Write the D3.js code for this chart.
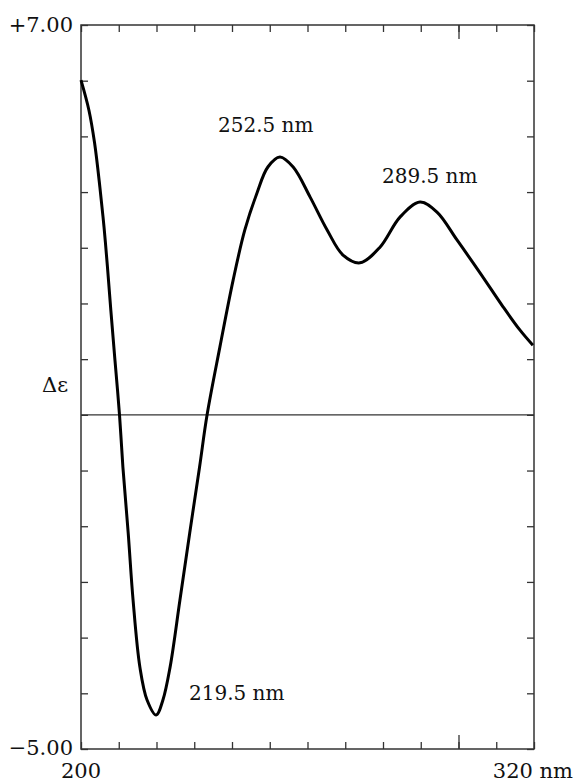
<!DOCTYPE html>
<html>
<head>
<meta charset="utf-8">
<script src="https://cdn.jsdelivr.net/npm/d3@7"></script>
<style>
  body { margin: 0; background: #fff; }
  svg text { font-family: "DejaVu Serif", serif; fill: #111; }
</style>
</head>
<body>
<div id="chart"></div>
<script>
// CD spectrum, wavelength (nm) vs delta epsilon
const wavelength = [200, 202.1, 203.6, 205.0, 206.1, 207.0, 207.9, 209.0, 210.2, 211.1, 212.5, 213.8,
    215.6, 217.5, 219.9, 221.7, 223.6, 226.2, 228.8, 231.4, 233.4, 236.8, 240.3, 243.4, 246.6,
    249.5, 252.7, 256.2, 260.7, 265.2, 269.4, 273.9, 279.2, 284.5, 289.8, 294.3, 299.6, 305.7,
    311.8, 316.3, 319.7];
const deltaEps = [6.01, 5.47, 4.88, 4.09, 3.37, 2.66, 1.88, 0.98, 0.0, -0.94, -2.12, -3.33,
    -4.53, -5.12, -5.39, -5.12, -4.53, -3.33, -2.12, -0.94, 0.0, 1.22, 2.42, 3.32, 3.98,
    4.45, 4.63, 4.45, 3.91, 3.32, 2.87, 2.73, 3.01, 3.55, 3.82, 3.64, 3.14, 2.55,
    1.94, 1.52, 1.25];

const peakLabels = ["219.5 nm", "252.5 nm", "289.5 nm"];
const xTicks = d3.range(200, 321, 10);
const yTicks = d3.range(-6, 8, 1);
const yEndLabels = ["+7.00", "\u22125.00"];
const xEndLabels = ["200", "320 nm"];

const W = 577, H = 782;
const margin = { top: 25, right: 43, bottom: 33, left: 81 };
const width = W - margin.left - margin.right;
const height = H - margin.top - margin.bottom;

const svg = d3.select("#chart").append("svg")
    .attr("width", W)
    .attr("height", H);

const g = svg.append("g").attr("transform", `translate(${margin.left},${margin.top})`);

const x = d3.scaleLinear().domain([200, 320]).range([0, width]);
const y = d3.scaleLinear().domain([-6, 7]).range([height, 0]);

// ticks, all pointing inward
const axisStyle = sel => {
    sel.select(".domain").remove();
    sel.selectAll("line").attr("stroke", "#333").attr("stroke-width", 1.3);
    sel.selectAll("text").remove();
};
g.append("g").attr("transform", `translate(0,${height})`)
    .call(d3.axisBottom(x).tickValues(xTicks).tickSize(-7)).call(axisStyle);
g.append("g")
    .call(d3.axisTop(x).tickValues(xTicks).tickSize(-7)).call(axisStyle);
g.append("g")
    .call(d3.axisLeft(y).tickValues(yTicks).tickSize(-7)).call(axisStyle);
g.append("g").attr("transform", `translate(${width},0)`)
    .call(d3.axisRight(y).tickValues(yTicks).tickSize(-7)).call(axisStyle);
// longer tick at 300 nm
g.append("g").attr("transform", `translate(0,${height})`)
    .call(d3.axisBottom(x).tickValues([300]).tickSize(-14)).call(axisStyle);
g.append("g")
    .call(d3.axisTop(x).tickValues([300]).tickSize(-14)).call(axisStyle);

// frame
g.append("rect")
    .attr("width", width)
    .attr("height", height)
    .attr("fill", "none")
    .attr("stroke", "#333")
    .attr("stroke-width", 1.5);

// zero line
g.append("line")
    .attr("x1", 0).attr("x2", width)
    .attr("y1", y(0)).attr("y2", y(0))
    .attr("stroke", "#333")
    .attr("stroke-width", 1.3);

// spectrum
const line = d3.line()
    .x((d, i) => x(wavelength[i]))
    .y(d => y(d))
    .curve(d3.curveCatmullRom.alpha(0.5));

g.append("path")
    .datum(deltaEps)
    .attr("d", line)
    .attr("fill", "none")
    .attr("stroke", "#000")
    .attr("stroke-width", 3)
    .attr("stroke-linejoin", "round");

// peak labels
const labelPos = [[189, 700], [218, 132], [382, 183]];
peakLabels.forEach((t, i) => {
    svg.append("text")
        .attr("x", labelPos[i][0])
        .attr("y", labelPos[i][1])
        .attr("font-size", 20)
        .text(t);
});

// axis end labels
svg.append("text").attr("x", margin.left - 8).attr("y", margin.top + y(7) + 7)
    .attr("text-anchor", "end").attr("font-size", 21).text(yEndLabels[0]);
svg.append("text").attr("x", margin.left - 8).attr("y", margin.top + y(-6) + 6)
    .attr("text-anchor", "end").attr("font-size", 21).text(yEndLabels[1]);
svg.append("text").attr("x", margin.left + x(200)).attr("y", 778)
    .attr("text-anchor", "middle").attr("font-size", 21).text(xEndLabels[0]);
svg.append("text").attr("x", 573).attr("y", 778)
    .attr("text-anchor", "end").attr("font-size", 21).text(xEndLabels[1]);

// y axis title
svg.append("text").attr("x", 42).attr("y", 392)
    .attr("font-size", 21).text("\u0394\u03b5");
</script>
</body>
</html>
